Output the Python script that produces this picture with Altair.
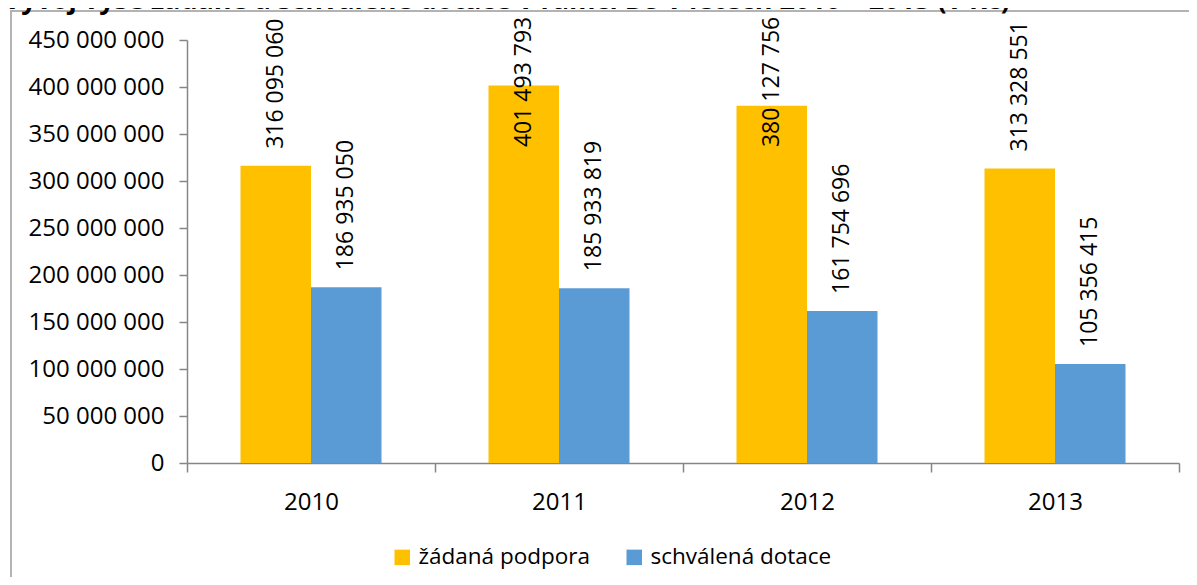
import altair as alt
import pandas as pd

years = ["2010", "2011", "2012", "2013"]
series = ["žádaná podpora", "schválená dotace"]
requested = [316095060, 401493793, 380127756, 313328551]
approved = [186935050, 185933819, 161754696, 105356415]
title_text = "Vývoj výše žádané a schválené dotace v rámci DS v letech 2010 – 2013 (v Kč)"
colors = ["#FFC000", "#5B9BD5"]

rows = []
for i, y in enumerate(years):
    rows.append({"rok": y, "serie": series[0], "hodnota": requested[i], "poradi": 0})
    rows.append({"rok": y, "serie": series[1], "hodnota": approved[i], "poradi": 1})
df = pd.DataFrame(rows)
df["label"] = df["hodnota"].map(lambda v: f"{v:,}".replace(",", " "))

FONT = "Open Sans"
AX = "#868686"

x_enc = alt.X("rok:N", title=None,
              scale=alt.Scale(paddingInner=0, paddingOuter=0),
              axis=alt.Axis(labelAngle=0, tickBand="extent", domainColor=AX, tickColor=AX,
                            tickSize=9, labelPadding=18, labelFontSize=24, labelFont=FONT,
                            labelColor="#000000", domainWidth=1.5, tickWidth=1.5))
xo_enc = alt.XOffset("serie:N", sort=series,
                     scale=alt.Scale(paddingInner=0, paddingOuter=0.759))
y_enc = alt.Y("hodnota:Q", title=None,
              scale=alt.Scale(domain=[0, 450000000], nice=False),
              axis=alt.Axis(values=list(range(0, 450000001, 50000000)), grid=False,
                            domainColor=AX, tickColor=AX, tickSize=8, labelPadding=15,
                            labelFontSize=24, labelFont=FONT, labelColor="#000000",
                            domainWidth=1.5, tickWidth=1.5,
                            labelExpr="replace(format(datum.value, ','), regexp(',', 'g'), ' ')"))

base = alt.Chart(df)

bars = base.mark_bar().encode(
    x=x_enc,
    xOffset=xo_enc,
    y=y_enc,
    color=alt.Color("serie:N", sort=series,
                    scale=alt.Scale(domain=series, range=colors),
                    legend=alt.Legend(title=None, orient="none", legendX=204, legendY=506,
                                      direction="horizontal", symbolType="square",
                                      symbolSize=240, symbolStrokeWidth=0,
                                      labelFontSize=22.5, labelFont=FONT, labelColor="#000000",
                                      labelOffset=5, columnPadding=32, labelLimit=400,
                                      padding=0)),
)

labels = base.transform_calculate(
    pos="datum.poradi == 0 ? min(datum.hodnota, 318000000) : datum.hodnota"
).mark_text(angle=270, align="left", baseline="middle", dx=17,
            fontSize=23, font=FONT, color="#000000").encode(
    x=alt.X("rok:N"),
    xOffset=alt.XOffset("serie:N", sort=series),
    y=alt.Y("pos:Q"),
    text="label:N",
)

one = alt.Chart(pd.DataFrame({"t": [title_text]}))
frame = one.mark_rect(fill=None, stroke="#b3b3b3", strokeWidth=2).encode(
    x=alt.value(-176), x2=alt.value(1100), y=alt.value(-29), y2=alt.value(700)
)
title = one.mark_text(align="right", baseline="alphabetic", fontSize=27,
                      fontWeight="bold", font=FONT, color="#000000").encode(
    x=alt.value(823), y=alt.value(-31), text="t:N"
)

chart = alt.layer(frame, bars, labels, title).properties(
    width=992, height=423,
    padding={"left": 179, "top": 32, "right": 10, "bottom": 114},
    autosize="none",
).configure_view(stroke=None)

chart.save("out.html", embed_options={"renderer": "svg", "actions": False})
